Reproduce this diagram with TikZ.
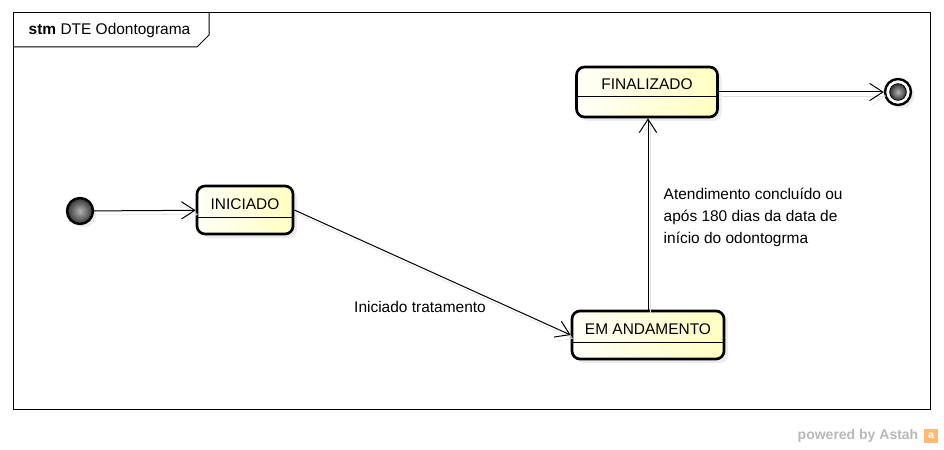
\documentclass[tikz,border=0pt]{standalone}
\usepackage{fontspec}
\setmainfont{Liberation Sans}
\usetikzlibrary{arrows.meta,shadows,calc}

\begin{document}
\begin{tikzpicture}[x=.75pt, y=-.75pt, >={Straight Barb[length=10pt,width=13pt]},
    estado/.style={draw, line width=2pt, rounded corners=6pt, left color=yellow!3, right color=yellow!24,
        drop shadow={shadow xshift=3pt, shadow yshift=-3pt, fill=black!15}},
    pseudo/.style={circle, draw, line width=1.8pt, minimum size=19.5pt, inner sep=0pt,
        drop shadow={shadow xshift=2.5pt, shadow yshift=-2.5pt, fill=black!15}},
    transicao/.style={->, line width=.75pt, preaction={draw=black!12, transform canvas={shift={(2pt,-3pt)}}}},
    rotulo/.style={font=\fontsize{11.6}{16.5}\selectfont}]
\useasboundingbox (0,0) rectangle (944,449);

% quadro
\draw[line width=.75pt] (13,13) rectangle (930,409);
\draw[line width=.75pt] (13,47) -- (197,47) -- (209,35) -- (209,13);
\node[rotulo, anchor=west] (titulo) at (24,31) {\textbf{stm} DTE Odontograma};

\foreach \nome/\x/\y/\w/\h/\s/\txt in {ini/245/210/72pt/36pt/7/INICIADO,
    fin/647/92/105.75pt/37.5pt/5/FINALIZADO, anda/648/335/114pt/36pt/7/EM ANDAMENTO}
{
    \node[estado, minimum width=\w, minimum height=\h] (\nome) at (\x,\y) {};
    \draw[line width=.75pt] ($(\nome.west)+(0,\s)$) -- ($(\nome.east)+(0,\s)$);
    \node[rotulo] (\nome-txt) at ($(\nome)+(0,\s-13)$) {\txt};
}

\node[pseudo, shading=radial, inner color=gray!60, outer color=black!80] (inicio) at (80,211) {};
\node[pseudo, fill=white] (fim) at (898,92) {};
\node[circle, draw, line width=.6pt, minimum size=12.5pt, inner sep=0pt, shading=radial,
    inner color=gray!60, outer color=black!80] (fim-int) at (fim) {};

\draw[transicao] (inicio) -- (ini);
\draw[transicao] (ini.east) -- (anda.west);
\draw[transicao] (anda.north) -- (anda.north |- fin.south);
\draw[transicao] (fin.east) -- (fim);

\node[rotulo] (lbl-trat) at (420,307) {Iniciado tratamento};
\node[rotulo, anchor=west, align=left] (lbl-fim) at (659,217) {Atendimento concluído ou\\após 180 dias da data de\\início do odontogrma};

\node[anchor=east, text=black!28, font=\bfseries\fontsize{10.5}{12}\selectfont] (astah) at (923,436) {powered by Astah};
\node[fill=orange!55, text=white, minimum size=11pt, inner sep=0pt, font=\bfseries\fontsize{8}{8}\selectfont] (logo) at (931,436) {a};
\end{tikzpicture}
\end{document}
